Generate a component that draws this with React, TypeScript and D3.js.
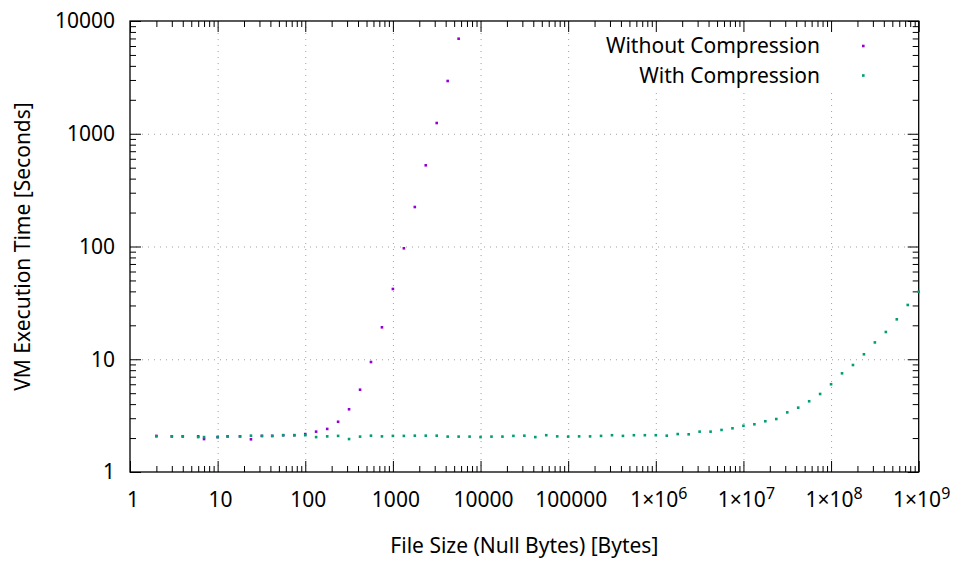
import React, { useEffect, useRef } from "react"
import * as d3 from "d3"

// file sizes in bytes (x), shared by both runs
const fileSizes = [
    2, 3, 4, 6, 7,
    10, 13, 18, 24, 32, 42, 56, 75,
    100, 133, 178, 237, 316, 422, 562, 750,
    1000, 1334, 1778, 2371, 3162, 4217, 5623, 7499,
    10000, 13335, 17783, 23714, 31623, 42170, 56234, 74989,
    100000, 133352, 177828, 237137, 316228, 421697, 562341, 749894,
    1000000, 1333521, 1778279, 2371374, 3162278, 4216965, 5623413, 7498942,
    10000000, 13335214, 17782794, 23713737, 31622777, 42169650, 56234133, 74989421,
    100000000, 133352143, 177827941, 237137371, 316227766, 421696503, 562341325, 749894209,
    1000000000
]

const withoutCompression = [
    2.09, 2.07, 2.07, 2.07, 1.96,
    2.04, 2.07, 2.07, 1.95, 2.09, 2.09, 2.12, 2.12,
    2.17, 2.28, 2.41, 2.79, 3.60, 5.37, 9.45, 19.2,
    42.0, 96.4, 224, 525, 1245, 2937, 6966
]

const withCompression = [
    2.07, 2.07, 2.07, 2.04, 2.04,
    2.04, 2.07, 2.07, 2.10, 2.09, 2.09, 2.12, 2.12,
    2.12, 2.04, 2.07, 2.09, 1.96, 2.06, 2.10, 2.07,
    2.09, 2.09, 2.10, 2.10, 2.10, 2.06, 2.06, 2.06,
    2.04, 2.06, 2.06, 2.09, 2.10, 2.04, 2.12, 2.07,
    2.06, 2.07, 2.07, 2.09, 2.12, 2.09, 2.12, 2.12,
    2.12, 2.10, 2.17, 2.16, 2.28, 2.28, 2.36, 2.44,
    2.57, 2.65, 2.82, 2.95, 3.38, 3.72, 4.24, 4.92,
    6.0, 7.5, 8.89, 11.07, 14.1, 17.45, 22.6, 30.3,
    39.7
]

const xMajorTicks = [1, 1e1, 1e2, 1e3, 1e4, 1e5, 1e6, 1e7, 1e8, 1e9]
const xTickLabels = [
    ["1"], ["10"], ["100"], ["1000"], ["10000"], ["100000"],
    ["1×10", "6"], ["1×10", "7"], ["1×10", "8"], ["1×10", "9"]
]
const yMajorTicks = [1, 10, 100, 1000, 10000]
const yTickLabels = ["1", "10", "100", "1000", "10000"]

const seriesNames = ["Without Compression", "With Compression"]
const seriesColors = ["#9400d3", "#009e73"]

const width = 954
const height = 561
const font = "'Noto Sans', sans-serif"
const fontSize = 21

const App = () => {
    const ref = useRef<SVGGElement>(null)

    useEffect(() => {
        const root = d3.select(ref.current)
        root.selectAll('*').remove()

        const margin = { top: 21, right: 35.3, bottom: 89, left: 130 }
        const innerWidth = width - margin.left - margin.right
        const innerHeight = height - margin.top - margin.bottom

        const xScale = d3.scaleLog().domain([1, 1e9]).range([0, innerWidth])
        const yScale = d3.scaleLog().domain([1, 10000]).range([innerHeight, 0])

        const g = root.append('g')
            .attr('transform', `translate(${margin.left}, ${margin.top})`)

        // grid
        const xGrid = g.append('g')
            .attr('transform', `translate(0, ${innerHeight})`)
            .call(d3.axisBottom(xScale).tickValues(xMajorTicks.slice(1, -1)).tickSize(-innerHeight).tickFormat(() => ''))
        const yGrid = g.append('g')
            .call(d3.axisLeft(yScale).tickValues(yMajorTicks.slice(1, -1)).tickSize(-innerWidth).tickFormat(() => ''))
        ;[xGrid, yGrid].forEach(a => {
            a.select('.domain').remove()
            a.selectAll('line')
                .attr('stroke', '#a0a0a0')
                .attr('stroke-width', 1)
                .attr('stroke-dasharray', '1,5')
        })

        // key background hides the grid
        g.append('rect')
            .attr('x', 465)
            .attr('y', 1)
            .attr('width', innerWidth - 466)
            .attr('height', 66)
            .attr('fill', 'white')

        // ticks on all four sides, pointing inward
        const xMinor = xScale.ticks().filter(d => !xMajorTicks.includes(d))
        const yMinor = yScale.ticks().filter(d => !yMajorTicks.includes(d))

        const tickAxes = [
            { axis: d3.axisBottom(xScale), t: `translate(0, ${innerHeight})`, maj: xMajorTicks, min: xMinor },
            { axis: d3.axisTop(xScale), t: `translate(0, 0)`, maj: xMajorTicks, min: xMinor },
            { axis: d3.axisLeft(yScale), t: `translate(0, 0)`, maj: yMajorTicks, min: yMinor },
            { axis: d3.axisRight(yScale), t: `translate(${innerWidth}, 0)`, maj: yMajorTicks, min: yMinor },
        ]
        tickAxes.forEach(({ axis, t, maj, min }) => {
            const a1 = g.append('g').attr('transform', t)
                .call(axis.tickValues(maj).tickSize(-11).tickFormat(() => ''))
            a1.select('.domain').remove()
            a1.selectAll('line').attr('stroke', 'black').attr('stroke-width', 1)
            const a2 = g.append('g').attr('transform', t)
                .call(axis.tickValues(min).tickSize(-6).tickFormat(() => ''))
            a2.select('.domain').remove()
            a2.selectAll('line').attr('stroke', 'black').attr('stroke-width', 1)
        })

        g.append('rect')
            .attr('width', innerWidth)
            .attr('height', innerHeight)
            .attr('fill', 'none')
            .attr('stroke', 'black')
            .attr('stroke-width', 1.3)

        // tick labels
        const xLab = g.append('g')
            .selectAll('text')
            .data(xMajorTicks)
            .enter().append('text')
                .attr('x', d => xScale(d) + 3)
                .attr('y', innerHeight + 35)
                .attr('text-anchor', 'middle')
                .attr('font-family', font)
                .attr('font-size', fontSize)
                .attr('fill', 'black')
        xLab.each(function (d, i) {
            const parts = xTickLabels[i]
            const t = d3.select(this)
            t.append('tspan').text(parts[0])
            if (parts[1]) {
                t.append('tspan')
                    .attr('dy', -8)
                    .attr('font-size', 16)
                    .text(parts[1])
            }
        })

        g.append('g')
            .selectAll('text')
            .data(yMajorTicks)
            .enter().append('text')
                .attr('x', -15)
                .attr('y', d => yScale(d))
                .attr('dy', '0.35em')
                .attr('text-anchor', 'end')
                .attr('font-family', font)
                .attr('font-size', fontSize)
                .attr('fill', 'black')
                .text((d, i) => yTickLabels[i])

        // axis titles
        g.append('text')
            .attr('x', innerWidth / 2)
            .attr('y', innerHeight + 81)
            .attr('text-anchor', 'middle')
            .attr('font-family', font)
            .attr('font-size', fontSize)
            .attr('fill', 'black')
            .text('File Size (Null Bytes) [Bytes]')

        g.append('text')
            .attr('transform', `translate(${-100}, ${innerHeight / 2}) rotate(-90)`)
            .attr('text-anchor', 'middle')
            .attr('font-family', font)
            .attr('font-size', fontSize)
            .attr('fill', 'black')
            .text('VM Execution Time [Seconds]')

        // points
        const dot = 2.6
        const series = [withoutCompression, withCompression]
        series.forEach((vals, si) => {
            g.append('g')
                .selectAll('rect')
                .data(vals)
                .enter().append('rect')
                    .attr('x', (d, i) => xScale(fileSizes[i]) - dot / 2)
                    .attr('y', d => yScale(d) - dot / 2)
                    .attr('width', dot)
                    .attr('height', dot)
                    .attr('fill', seriesColors[si])
        })

        // key
        const key = g.append('g')
        seriesNames.forEach((name, i) => {
            const ky = 25 + i * 29.5
            key.append('text')
                .attr('x', 690)
                .attr('y', ky)
                .attr('dy', '0.35em')
                .attr('text-anchor', 'end')
                .attr('font-family', font)
                .attr('font-size', fontSize)
                .attr('fill', 'black')
                .text(name)
            key.append('rect')
                .attr('x', 733.3 - dot / 2)
                .attr('y', ky - dot / 2)
                .attr('width', dot)
                .attr('height', dot)
                .attr('fill', seriesColors[i])
        })
    }, [])

    return (
        <div>
            <svg width={width} height={height} style={{ position: 'absolute', left: 0, top: 0, background: 'white' }}>
                <g ref={ref} />
            </svg>
        </div>
    )
}

export default App
